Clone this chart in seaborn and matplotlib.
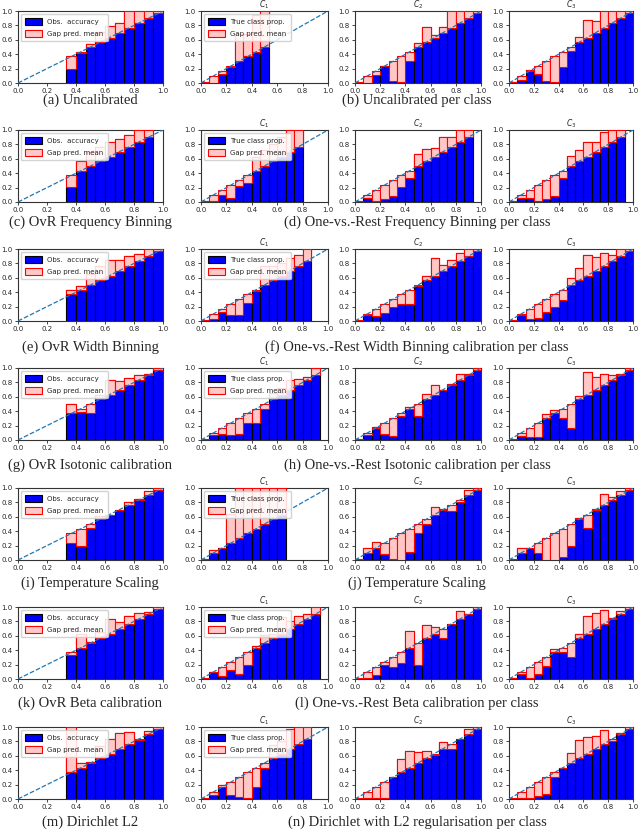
import numpy as np
import matplotlib
matplotlib.use("Agg")
import matplotlib.pyplot as plt
import seaborn as sns

N = np.nan

# ---- data (15 equal-width confidence bins, NaN = empty bin) ----
PRED_MEAN = [0.02, 0.10, 0.17, 0.23, 0.30, 0.37, 0.43, 0.50, 0.57, 0.63, 0.70, 0.77, 0.83, 0.90, 0.97]
DIAG = [0.0, 1.0]

obs_a = [N, N, N, N, N, 0.20, 0.41, 0.54, 0.71, 0.79, 0.83, 1.0, 1.0, 1.0, 1.0]
obs_b1 = [0.00, 0.00, 0.12, 0.22, 0.68, 0.68, 0.95, 1.00, N, N, N, N, N, N, N]
obs_b2 = [0.00, 0.00, 0.11, 0.24, 0.03, 0.02, 0.30, 0.56, 0.78, 0.66, 0.78, 1.0, 1.0, 1.0, 1.0]
obs_b3 = [0.01, 0.04, 0.18, 0.12, 0.03, 0.01, 0.22, 0.45, 0.64, 0.88, 0.86, 1.0, 1.0, 1.0, 1.0]

obs_c = [N, N, N, N, N, 0.21, 0.57, 0.70, 0.77, 0.83, 0.88, 0.93, 1.0, 1.0, N]
obs_d1 = [0.01, 0.02, 0.10, 0.06, 0.22, 0.26, 0.62, 0.72, 0.80, 0.90, 1.0, 1.0, N, N, N]
obs_d2 = [0.00, 0.05, 0.02, 0.04, 0.08, 0.21, 0.34, 0.66, 0.73, 0.75, 0.90, 0.90, 1.0, 1.0, N]
obs_d3 = [0.01, 0.06, 0.06, 0.01, 0.04, 0.08, 0.34, 0.64, 0.72, 0.83, 0.84, 0.97, 1.0, 1.0, N]

obs_e = [N, N, N, N, N, 0.43, 0.49, 0.65, 0.76, 0.85, 0.85, 0.90, 0.93, 1.0, 1.0]
obs_f1 = [0.00, 0.03, 0.12, 0.08, 0.09, 0.25, 0.42, 0.77, 0.77, 0.80, 0.87, 0.92, 1.0, N, N]
obs_f2 = [0.00, 0.08, 0.07, 0.11, 0.20, 0.24, 0.24, 0.49, 0.62, 0.87, 0.78, 0.85, 0.94, 1.0, 1.0]
obs_f3 = [0.00, 0.09, 0.03, 0.04, 0.13, 0.20, 0.29, 0.60, 0.73, 0.92, 0.89, 0.94, 0.91, 1.0, 1.0]

obs_g = [N, N, N, N, N, 0.50, 0.39, 0.37, 0.63, 0.83, 0.82, 0.86, 0.90, 0.92, 1.0]
obs_h1 = [0.00, 0.07, 0.09, 0.07, 0.09, 0.24, 0.24, 0.43, 0.65, 0.72, 0.83, 0.85, 0.88, 1.0, N]
obs_h2 = [0.00, 0.07, 0.18, 0.09, 0.05, 0.33, 0.46, 0.33, 0.64, 0.76, 0.70, 0.78, 0.91, 0.91, 1.0]
obs_h3 = [0.00, 0.06, 0.04, 0.04, 0.36, 0.42, 0.30, 0.17, 0.61, 0.94, 0.88, 0.91, 0.90, 0.91, 1.0]

obs_i = [N, N, N, N, N, 0.24, 0.20, 0.45, 0.61, 0.63, 0.70, 0.81, 0.85, 0.96, 1.0]
obs_j1 = [0.01, 0.14, 0.16, 0.64, 1.0, 1.0, 1.0, 1.0, 1.0, 1.0, N, N, N, N, N]
obs_j2 = [0.00, 0.16, 0.25, 0.09, 0.01, 0.00, 0.11, 0.37, 0.50, 0.73, 0.71, 0.68, 0.80, 0.97, 1.0]
obs_j3 = [0.00, 0.16, 0.16, 0.10, 0.00, 0.00, 0.04, 0.19, 0.59, 0.44, 0.71, 0.92, 0.88, 0.96, 1.0]

obs_k = [N, N, N, N, N, 0.33, 0.63, 0.51, 0.65, 0.84, 0.79, 0.88, 0.91, 0.93, 1.0]
obs_l1 = [0.00, 0.10, 0.04, 0.12, 0.07, 0.20, 0.46, 0.61, 0.62, 0.86, 0.81, 0.87, 0.90, 1.0, N]
obs_l2 = [0.00, 0.02, 0.06, 0.20, 0.17, 0.22, 0.67, 0.20, 0.75, 0.72, 0.57, 0.76, 0.95, 0.90, 1.0]
obs_l3 = [0.01, 0.07, 0.01, 0.07, 0.18, 0.42, 0.37, 0.30, 0.63, 0.88, 0.91, 0.96, 0.85, 0.95, 1.0]

obs_m = [N, N, N, N, N, 1.0, 0.50, 0.52, 0.74, 0.83, 0.91, 0.93, 0.82, 0.95, 1.0]
obs_n1 = [0.00, 0.06, 0.20, 0.06, 0.03, 0.02, 0.17, 0.43, 0.75, 0.80, 0.97, 1.0, 1.0, N, N]
obs_n2 = [0.00, 0.02, 0.02, 0.02, 0.31, 0.56, 0.67, 0.65, 0.67, 0.61, 0.79, 0.69, 0.84, 0.97, 1.0]
obs_n3 = [0.00, 0.01, 0.02, 0.04, 0.07, 0.31, 0.43, 0.64, 0.82, 0.86, 0.88, 0.96, 0.80, 0.92, 1.0]

LEFT_CAPTIONS = ["(a) Uncalibrated", "(c) OvR Frequency Binning", "(e) OvR Width Binning",
                 "(g) OvR Isotonic calibration", "(i) Temperature Scaling",
                 "(k) OvR Beta calibration", "(m) Dirichlet L2"]
RIGHT_CAPTIONS = ["(b) Uncalibrated per class", "(d) One-vs.-Rest Frequency Binning per class",
                  "(f) One-vs.-Rest Width Binning calibration per class",
                  "(h) One-vs.-Rest Isotonic calibration per class", "(j) Temperature Scaling",
                  "(l) One-vs.-Rest Beta calibration per class",
                  "(n) Dirichlet with L2 regularisation per class"]
CLASS_TITLES = ["$C_1$", "$C_2$", "$C_3$"]
TICKS = [0.0, 0.2, 0.4, 0.6, 0.8, 1.0]
TICK_LABELS = ["0.0", "0.2", "0.4", "0.6", "0.8", "1.0"]

LEFT_OBS = [obs_a, obs_c, obs_e, obs_g, obs_i, obs_k, obs_m]
RIGHT_OBS = [[obs_b1, obs_b2, obs_b3], [obs_d1, obs_d2, obs_d3], [obs_f1, obs_f2, obs_f3],
             [obs_h1, obs_h2, obs_h3], [obs_j1, obs_j2, obs_j3], [obs_l1, obs_l2, obs_l3],
             [obs_n1, obs_n2, obs_n3]]

# ---- styling / layout ----
sns.set_style("ticks")
plt.rcParams.update({
    "axes.edgecolor": "0.2",
    "axes.linewidth": 0.8,
    "xtick.color": "0.15", "ytick.color": "0.15",
})

W, H = 640, 832
fig = plt.figure(figsize=(W / 100, H / 100), dpi=100)

COLS = [(18, 163), (201, 328), (355, 481), (509, 633)]
ROW_TOPS = [11, 130, 249, 368, 488, 607, 727]
AX_H = 72
CAP_Y = [100, 222, 347, 465, 583, 703, 822]

edges = np.linspace(0, 1, 16)
centers = (edges[:-1] + edges[1:]) / 2
bw = edges[1] - edges[0]


def add_ax(col, top):
    x0, x1 = COLS[col]
    return fig.add_axes([x0 / W, 1 - (top + AX_H) / H, (x1 - x0) / W, AX_H / H])


def draw(ax, obs, label, legend, title=None):
    obs = np.asarray(obs, float)
    pred = np.asarray(PRED_MEAN, float)
    m = ~np.isnan(obs)
    ax.bar(centers[m], obs[m], width=bw, color="blue", edgecolor="black",
           linewidth=0.8, label=label, zorder=2)
    ax.bar(centers[m], pred[m] - obs[m], bottom=obs[m], width=bw, color="#ffc8c6",
           edgecolor="red", linewidth=0.8, label="Gap pred. mean", zorder=3)
    sns.lineplot(x=DIAG, y=DIAG, ax=ax, color="#1f77b4", linestyle="--",
                 linewidth=0.9, zorder=4, legend=False)
    ax.set_xlim(0, 1)
    ax.set_ylim(0, 1)
    ax.set_xticks(TICKS)
    ax.set_xticklabels(TICK_LABELS)
    ax.set_yticks(TICKS)
    ax.set_yticklabels(TICK_LABELS)
    ax.tick_params(labelsize=5, length=2.5, width=0.6, pad=1.2)
    if title:
        ax.set_title(title, fontsize=5.5, pad=1)
    if legend:
        ax.legend(loc="upper left", fontsize=5, handlelength=2.4, handleheight=1.2,
                  borderpad=0.6, labelspacing=0.7, frameon=True, framealpha=0.85,
                  edgecolor="0.8", borderaxespad=0.4)
    elif ax.get_legend() is not None:
        ax.get_legend().remove()


for r in range(7):
    top = ROW_TOPS[r]
    ax = add_ax(0, top)
    draw(ax, LEFT_OBS[r], "Obs.  accuracy", True)
    for k in range(3):
        ax = add_ax(k + 1, top)
        draw(ax, RIGHT_OBS[r][k], "True class prop.", k == 0, CLASS_TITLES[k])
    fig.text(90 / W, 1 - CAP_Y[r] / H, LEFT_CAPTIONS[r], ha="center", va="center",
             family="Liberation Serif", fontsize=10.5)
    fig.text(417 / W, 1 - CAP_Y[r] / H, RIGHT_CAPTIONS[r], ha="center", va="center",
             family="Liberation Serif", fontsize=10.5)

fig.savefig("out.png", dpi=100)
